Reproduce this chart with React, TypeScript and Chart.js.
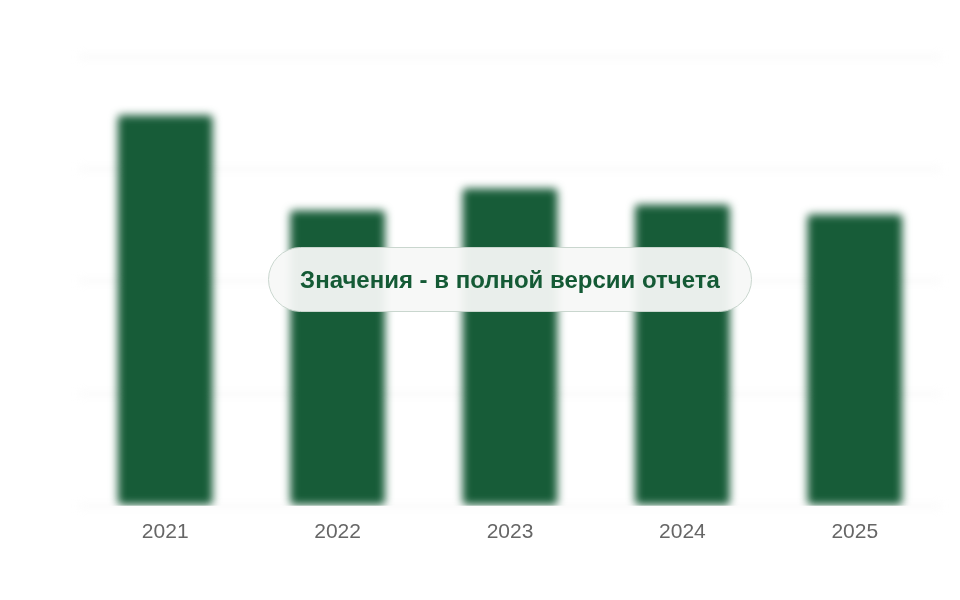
import React, { useEffect, useRef } from 'react';
import { Chart, registerables } from 'chart.js';

Chart.register(...registerables);

const years = ['2021', '2022', '2023', '2024', '2025'];
const values = [87, 65.8, 70.7, 67.1, 64.9];
const yTicks = [0, 25, 50, 75, 100];

const blurPlugin = {
    id: 'blurArea',
    beforeDraw: (chart: any) => {
        chart.ctx.save();
        chart.ctx.filter = 'blur(4px)';
    },
    afterDatasetsDraw: (chart: any) => {
        chart.ctx.restore();
    },
};

const App: React.FC = () => {
    const canvasRef = useRef<HTMLCanvasElement>(null);

    useEffect(() => {
        if (!canvasRef.current) return;
        const chart = new Chart(canvasRef.current, {
            type: 'bar',
            data: {
                labels: years,
                datasets: [{
                    data: values,
                    backgroundColor: '#175c38',
                    borderRadius: 4,
                    borderSkipped: false,
                    barPercentage: 0.55,
                    categoryPercentage: 1,
                }],
            },
            options: {
                animation: false,
                responsive: true,
                maintainAspectRatio: false,
                layout: { padding: { left: 79, right: 19, top: 57, bottom: 49 } },
                plugins: {
                    legend: { display: false },
                    tooltip: { enabled: false },
                },
                scales: {
                    x: {
                        grid: { display: false },
                        border: { display: false },
                        ticks: {
                            z: 1,
                            padding: 6,
                            color: '#666666',
                            font: { family: '"Liberation Sans", Arial, sans-serif', size: 21 },
                        },
                    },
                    y: {
                        min: yTicks[0],
                        max: yTicks[yTicks.length - 1],
                        afterBuildTicks: (scale: any) => {
                            scale.ticks = yTicks.map(v => ({ value: v }));
                        },
                        border: { display: false },
                        grid: { color: '#f1f1f1', lineWidth: 2, drawTicks: false },
                        ticks: { display: false },
                    },
                },
            },
            plugins: [blurPlugin],
        });
        return () => chart.destroy();
    }, []);

    return (
        <div style={{ position: 'absolute', left: 0, top: 0, width: 960, height: 600, background: '#fff' }}>
            <canvas ref={canvasRef}></canvas>
            <div style={{
                position: 'absolute',
                left: 268,
                top: 247,
                width: 484,
                height: 65,
                boxSizing: 'border-box',
                borderRadius: 33,
                border: '1.5px solid #c9d6ce',
                background: 'rgba(246,248,247,0.94)',
                display: 'flex',
                alignItems: 'center',
                justifyContent: 'center',
                fontFamily: '"Liberation Sans", Arial, sans-serif',
                fontWeight: 'bold',
                fontSize: 24,
                color: '#145a35',
            }}>
                Значения - в полной версии отчета
            </div>
        </div>
    );
};

export default App;
